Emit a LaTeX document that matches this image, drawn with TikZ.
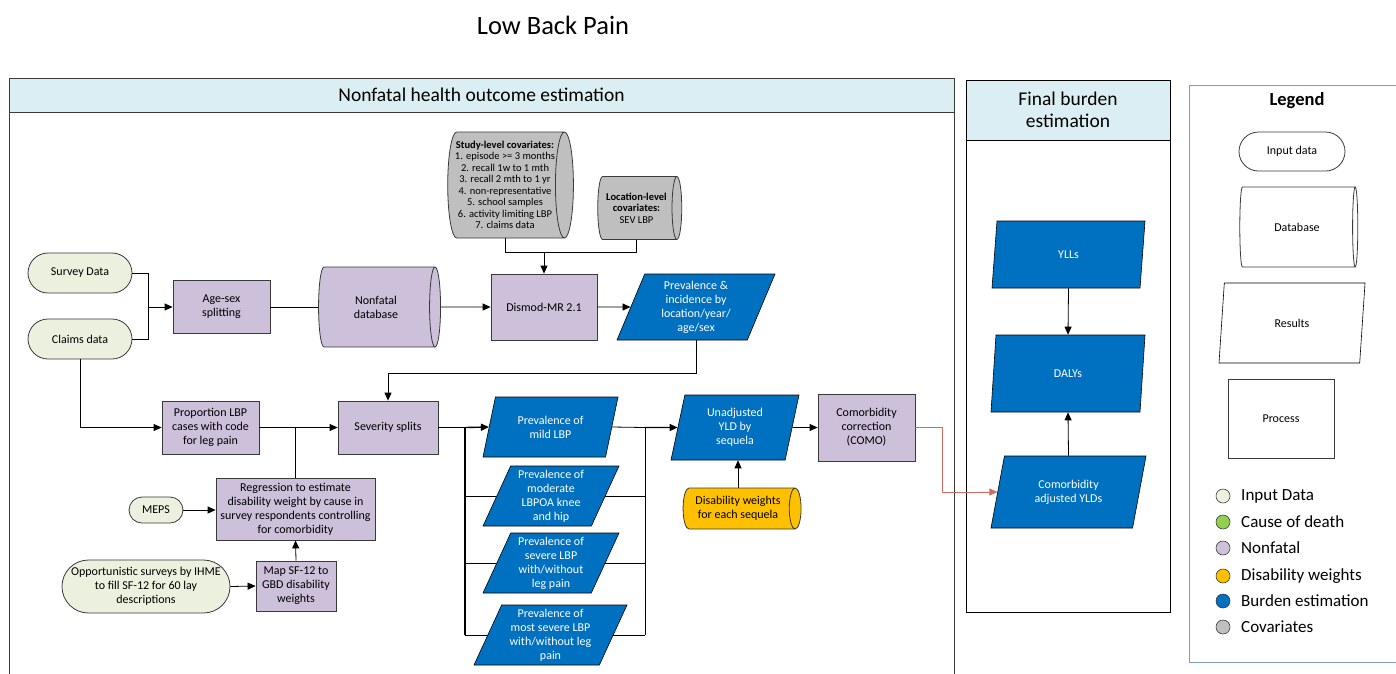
\documentclass[tikz,border=0pt]{standalone}
\usepackage{fontspec}
\setmainfont{Carlito}
\usetikzlibrary{arrows.meta, shapes.geometric, shapes.misc, backgrounds}

\definecolor{inputdata}{HTML}{EBF1DE}
\definecolor{causedeath}{HTML}{92D050}
\definecolor{nonfatal}{HTML}{CCC0DA}
\definecolor{dweights}{HTML}{FFC000}
\definecolor{burden}{HTML}{0070C0}
\definecolor{covar}{HTML}{BFBFBF}
\definecolor{hdrfill}{HTML}{DAEEF3}
\definecolor{legframe}{HTML}{7A9CC4}
\definecolor{comoline}{HTML}{D46A5F}
\definecolor{edge}{HTML}{3A3A3A}

\begin{document}
\begin{tikzpicture}[
    x=1pt, y=-1pt,
    base/.style={font=\fontsize{12}{14}\selectfont, align=center, inner sep=1pt},
    proc/.style={base, rectangle, draw=edge, fill=nonfatal, line width=0.8pt},
    inpt/.style={base, rounded rectangle, draw=edge, fill=inputdata, line width=0.8pt},
    % cylinder sizes: minimum height runs along the axis (horizontal here)
    dbase/.style={base, cylinder, shape border rotate=0, aspect=0.4, draw=edge, line width=0.8pt},
    result/.style={base, trapezium, trapezium left angle=63, trapezium right angle=117,
        trapezium stretches body, draw=black, fill=burden, text=white, line width=0.6pt},
    arr/.style={-{Triangle[length=8pt,width=7pt]}, line width=0.8pt},
    thickarr/.style={arr, line width=1.4pt},
    dot/.style={circle, draw=edge, line width=0.6pt, minimum size=14pt, inner sep=0pt},
    lbl/.style={anchor=west, font=\fontsize{17}{19}\selectfont, inner sep=0pt}
]
\useasboundingbox (0,0) rectangle (1396,673);

% ---------- Title and panels ----------
\node[font=\fontsize{26.5}{30}\selectfont] (title) at (553,25) {Low Back Pain};

\draw[edge, line width=1pt] (9,78) rectangle (954,700);
\draw[edge, line width=1pt, fill=hdrfill] (9,78) rectangle (954,112);
\node[font=\fontsize{19.5}{22}\selectfont] (nfhdr) at (481.5,95) {Nonfatal health outcome estimation};

\draw[black, line width=1pt] (966,80) rectangle (1170,612);
\draw[black, line width=1pt, fill=hdrfill] (966,80) rectangle (1170,140);
\node[font=\fontsize{19.5}{22}\selectfont, align=center] (fbhdr) at (1068,110) {Final burden\\estimation};

\draw[legframe, line width=1pt] (1189,85) rectangle (1400,662);

% ---------- Input data ----------
\node[inpt, minimum width=106, minimum height=40] (survey) at (80,273) {Survey Data};
\node[inpt, minimum width=106, minimum height=40] (claims) at (80,339) {Claims data};
\node[inpt, minimum width=56, minimum height=26] (meps) at (156,510) {MEPS};
\node[inpt, minimum width=164, minimum height=53] (opport) at (146,586.5)
    {Opportunistic surveys by IHME\\to fill SF-12 for 60 lay\\descriptions};

% ---------- Covariates ----------
\node[dbase, fill=covar, aspect=0.2, inner xsep=0pt, minimum height=125, minimum width=106,
      font=\fontsize{10.5}{11.5}\selectfont] (studycov) at (505,185)
    {\textbf{Study-level covariates:}\\1. episode >= 3 months\\2. recall 1w to 1 mth\\3. recall 2 mth to 1 yr\\
     4. non-representative\\5. school samples\\6. activity limiting LBP\\7. claims data};
\node[dbase, fill=covar, aspect=0.3, inner xsep=0pt, minimum height=84, minimum width=63,
      font=\fontsize{10.5}{11.5}\selectfont] (loccov) at (636.5,208)
    {\textbf{Location-level}\\\textbf{covariates:}\\SEV LBP};

% ---------- Nonfatal processing ----------
\node[proc, minimum width=97, minimum height=53] (agesex) at (221.5,307) {Age-sex\\splitting};
\node[dbase, fill=nonfatal, aspect=0.45, minimum height=122, minimum width=80] (nfdb) at (376,307) {Nonfatal\\database};
\node[proc, minimum width=106, minimum height=66] (dismod) at (544,307) {Dismod-MR 2.1};
\node[result, minimum width=158, minimum height=66] (previnc) at (696,307)
    {Prevalence \&\\incidence by\\location/year/\\age/sex};

\node[proc, minimum width=97, minimum height=53] (propleg) at (210.5,427.5)
    {Proportion LBP\\cases with code\\for leg pain};
\node[proc, minimum width=100, minimum height=53] (severity) at (388,427.5) {Severity splits};
\node[proc, minimum width=159, minimum height=62] (regress) at (295.5,509)
    {Regression to estimate\\disability weight by cause in\\survey respondents controlling\\for comorbidity};
\node[proc, minimum width=80, minimum height=50] (mapsf) at (296,586)
    {Map SF-12 to\\GBD disability\\weights};

\node[result, minimum width=135, minimum height=60] (mild) at (550.5,427) {Prevalence of\\mild LBP};
\node[result, minimum width=136, minimum height=60] (moderate) at (551,496)
    {Prevalence of\\moderate\\LBPOA knee\\and hip};
\node[result, minimum width=136, minimum height=60] (severe) at (551,563)
    {Prevalence of\\severe LBP\\with/without\\leg pain};
\node[result, minimum width=153, minimum height=60] (mostsevere) at (550.5,635)
    {Prevalence of\\most severe LBP\\with/without leg\\pain};

\node[result, trapezium left angle=71, trapezium right angle=109,
      minimum width=128, minimum height=65] (unadj) at (735,427.5) {Unadjusted\\YLD by\\sequela};
\node[dbase, fill=dweights, aspect=0.45, inner xsep=0pt, minimum height=118, minimum width=41] (dwcyl) at (738,508.5)
    {Disability weights\\for each sequela};
\node[proc, minimum width=97, minimum height=67] (como) at (866.5,427.5)
    {Comorbidity\\correction\\(COMO)};

% ---------- Final burden ----------
\node[result, minimum width=153, minimum height=67] (yll) at (1068.5,254.5) {YLLs};
\node[result, minimum width=154, minimum height=77] (daly) at (1068,373.5) {DALYs};
\node[result, minimum width=155, minimum height=72] (comoadj) at (1068.5,492)
    {Comorbidity\\adjusted YLDs};

% ---------- Legend ----------
\node[font=\fontsize{18.5}{21}\selectfont\bfseries] (legtitle) at (1297,101) {Legend};
\node[inpt, fill=white, minimum width=108, minimum height=39] (leginput) at (1292,151.5) {Input data};
\node[dbase, fill=white, aspect=0.5, minimum height=118, minimum width=80] (legdb) at (1297,227) {Database};
\node[result, fill=white, text=black, minimum width=146, minimum height=80] (legres) at (1292,323) {Results};
\node[proc, fill=white, minimum width=106, minimum height=79] (legproc) at (1281,418.5) {Process};

\foreach \y/\col/\txt [count=\i] in {496/inputdata/Input Data, 522/causedeath/Cause of death,
        548/nonfatal/Nonfatal, 576/dweights/Disability weights,
        601/burden/Burden estimation, 627/covar/Covariates} {
    \node[dot, fill=\col] (dot\i) at (1223,\y) {};
    \node[lbl] (key\i) at (1241,\y) {\txt};
}

% ---------- Connectors ----------
\coordinate (jin) at (148,307);
\coordinate (jcov) at (544,252);
\coordinate (tl) at (465,427.5);
\coordinate (tr) at (645,427.5);

\draw[line width=0.8pt] (survey.east) -| (jin);
\draw[line width=0.8pt] (claims.east) -| (jin);
\draw[arr] (jin) -- (agesex.west);
\draw[line width=0.8pt] (agesex.east) -- (nfdb.west);
\draw[arr] (nfdb.east) -- (dismod.west);
\draw[arr] (dismod.east) -- (previnc.west);

\draw[line width=0.8pt] (studycov.south) |- (jcov);
\draw[line width=0.8pt] (loccov.south) |- (jcov);
\draw[arr] (jcov) -- (dismod.north);

\draw[arr] (previnc.south) -- ++(0,33) -| (severity.north);
\draw[arr] (claims.south) |- (propleg.west);
\draw[arr] (propleg.east) -- (severity.west);
\draw[line width=0.8pt] (regress.north) -- (regress.north |- severity.west);
\draw[arr] (meps.east) -- (regress.west |- meps.east);
\draw[arr] (opport.east) -- (mapsf.west);
\draw[arr] (mapsf.north) -- (regress.south);

\draw[line width=1.4pt] (severity.east) -- (tl);
\draw[thickarr] (tl) -- (mild.west);
\begin{scope}[on background layer]
\draw[line width=1.4pt] (tl) -- (tl |- mostsevere);
\draw[line width=0.8pt] (tr) -- (tr |- mostsevere);
\foreach \n in {moderate, severe, mostsevere}
    \draw[line width=0.8pt] (tl |- \n) -- (tr |- \n);
\end{scope}
\draw[line width=0.8pt] (mild.east) -- (tr);
\draw[thickarr] (tr) -- (unadj.west);

\draw[arr] (dwcyl.north) -- (dwcyl.north |- unadj.south);
\draw[arr] (unadj.east) -- (como.west);
\draw[arr, comoline] (como.east) -- ++(27,0) |- (comoadj.west);

\draw[arr] (yll.south) -- (daly.north);
\draw[arr] (comoadj.north) -- (daly.south);

\end{tikzpicture}
\end{document}
